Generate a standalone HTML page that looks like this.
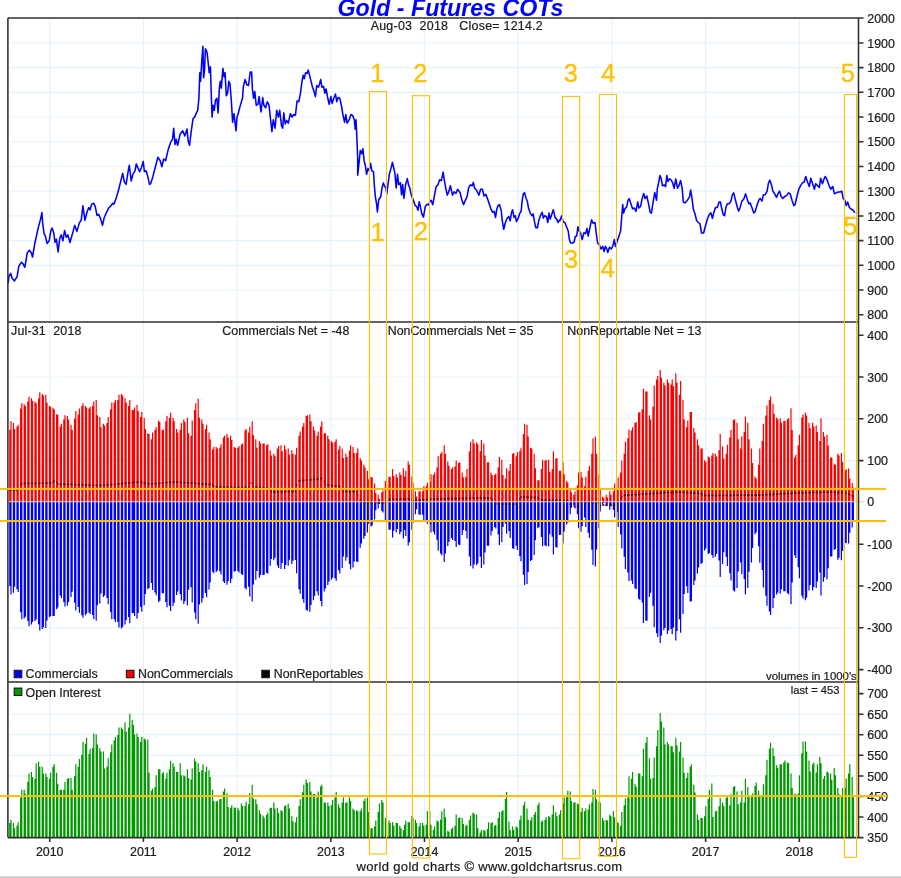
<!DOCTYPE html>
<html><head><meta charset="utf-8"><title>Gold - Futures COTs</title><style>html,body{margin:0;padding:0;background:#fff}svg{display:block}</style></head><body>
<svg width="901" height="878" viewBox="0 0 901 878" font-family="Liberation Sans, Arial, sans-serif" font-size="12.4" fill="#1c1c1c">
<style>text{stroke:#1c1c1c;stroke-width:.22px}text.ti{stroke:none}text.og{stroke:#FFC000;stroke-width:.3px}</style>
<rect width="901" height="878" fill="#fff"/>
<path d="M49.7 18.0V837.6 M143.4 18.0V837.6 M237.1 18.0V837.6 M330.8 18.0V837.6 M424.5 18.0V837.6 M518.2 18.0V837.6 M611.9 18.0V837.6 M705.6 18.0V837.6 M799.3 18.0V837.6 M7.9 290.0H858.5 M7.9 265.3H858.5 M7.9 240.6H858.5 M7.9 215.9H858.5 M7.9 191.2H858.5 M7.9 166.5H858.5 M7.9 141.8H858.5 M7.9 117.0H858.5 M7.9 92.3H858.5 M7.9 67.6H858.5 M7.9 42.9H858.5 M7.9 627.8H858.5 M7.9 586.0H858.5 M7.9 544.2H858.5 M7.9 460.6H858.5 M7.9 418.8H858.5 M7.9 377.0H858.5 M7.9 817.0H858.5 M7.9 796.5H858.5 M7.9 775.9H858.5 M7.9 755.3H858.5 M7.9 734.7H858.5 M7.9 714.2H858.5" stroke="#e7f3fa" stroke-width="1.2" fill="none"/>
<path d="M9.80 502.0V429.8M11.00 502.0V421.3M13.40 502.0V423.0M14.60 502.0V428.9M17.00 502.0V426.4M18.20 502.0V424.7M20.60 502.0V408.4M21.80 502.0V403.3M24.20 502.0V404.2M25.40 502.0V405.9M27.80 502.0V401.6M29.00 502.0V396.5M31.40 502.0V398.2M32.60 502.0V400.8M35.00 502.0V401.6M36.20 502.0V403.3M38.60 502.0V398.5M39.80 502.0V392.2M42.20 502.0V393.9M43.40 502.0V395.6M45.80 502.0V394.8M47.00 502.0V402.5M49.40 502.0V405.9M50.60 502.0V406.7M53.00 502.0V407.7M54.20 502.0V409.3M56.60 502.0V414.4M57.80 502.0V414.4M60.20 502.0V426.4M61.40 502.0V423.8M63.80 502.0V419.5M65.00 502.0V415.3M67.40 502.0V416.1M68.60 502.0V419.5M71.00 502.0V424.7M72.20 502.0V429.8M74.60 502.0V418.7M75.80 502.0V411.0M78.20 502.0V414.4M79.40 502.0V408.4M81.80 502.0V405.9M83.00 502.0V403.3M85.40 502.0V405.9M86.60 502.0V407.6M89.00 502.0V408.4M90.20 502.0V406.7M92.60 502.0V405.9M93.80 502.0V401.6M96.20 502.0V399.9M97.40 502.0V415.3M99.80 502.0V417.0M101.00 502.0V427.2M103.40 502.0V423.8M104.60 502.0V425.5M107.00 502.0V423.0M108.20 502.0V417.0M110.60 502.0V409.3M111.80 502.0V402.5M114.20 502.0V402.5M115.40 502.0V399.9M117.80 502.0V399.9M119.00 502.0V394.8M121.40 502.0V393.9M122.60 502.0V395.6M125.00 502.0V398.2M126.20 502.0V402.5M128.60 502.0V405.9M129.80 502.0V399.9M132.20 502.0V410.1M133.40 502.0V410.1M134.60 502.0V407.6M137.00 502.0V405.0M138.20 502.0V411.0M140.60 502.0V417.0M141.80 502.0V411.9M144.20 502.0V417.8M145.40 502.0V428.9M147.80 502.0V433.2M149.00 502.0V434.1M151.40 502.0V439.2M152.60 502.0V432.4M155.00 502.0V429.8M156.20 502.0V427.2M158.60 502.0V420.4M159.80 502.0V422.1M162.20 502.0V429.8M163.40 502.0V429.8M165.80 502.0V421.3M167.00 502.0V416.1M169.40 502.0V417.8M170.60 502.0V412.7M173.00 502.0V417.8M174.20 502.0V421.3M176.60 502.0V428.9M177.80 502.0V432.4M180.20 502.0V429.8M181.40 502.0V423.0M183.80 502.0V419.5M185.00 502.0V422.1M187.40 502.0V417.8M188.60 502.0V433.2M191.00 502.0V435.8M192.20 502.0V420.4M194.60 502.0V410.1M195.80 502.0V403.3M198.20 502.0V398.7M199.40 502.0V417.8M201.80 502.0V419.5M203.00 502.0V423.8M205.40 502.0V428.9M206.60 502.0V424.7M209.00 502.0V432.4M210.20 502.0V439.2M212.60 502.0V449.4M213.80 502.0V446.9M216.20 502.0V446.9M217.40 502.0V448.6M219.80 502.0V447.7M221.00 502.0V444.3M223.40 502.0V437.5M224.60 502.0V435.8M227.00 502.0V434.1M228.20 502.0V437.5M230.60 502.0V435.8M231.80 502.0V440.0M234.20 502.0V446.9M235.40 502.0V447.7M237.80 502.0V447.7M239.00 502.0V446.0M241.40 502.0V444.6M242.60 502.0V443.5M245.00 502.0V430.6M246.20 502.0V428.9M248.60 502.0V432.4M249.80 502.0V426.4M252.20 502.0V421.3M253.40 502.0V434.9M255.80 502.0V439.2M257.00 502.0V447.7M259.40 502.0V440.9M260.60 502.0V443.5M263.00 502.0V443.5M264.20 502.0V443.5M266.60 502.0V445.2M267.80 502.0V444.3M270.20 502.0V450.3M271.40 502.0V455.4M273.80 502.0V453.7M275.00 502.0V456.3M277.40 502.0V448.6M278.60 502.0V446.0M281.00 502.0V445.2M282.20 502.0V451.2M284.60 502.0V445.2M285.80 502.0V449.4M288.20 502.0V448.6M289.40 502.0V454.6M291.80 502.0V450.3M293.00 502.0V453.7M295.40 502.0V454.6M296.60 502.0V447.7M299.00 502.0V435.8M300.20 502.0V431.5M302.60 502.0V426.4M303.80 502.0V423.0M306.20 502.0V416.1M307.40 502.0V415.3M309.80 502.0V414.4M311.00 502.0V421.3M313.40 502.0V426.4M314.60 502.0V430.6M317.00 502.0V435.8M318.20 502.0V431.5M320.60 502.0V426.4M321.80 502.0V421.3M324.20 502.0V433.2M325.40 502.0V433.2M327.80 502.0V435.8M329.00 502.0V439.2M331.40 502.0V440.9M332.60 502.0V442.6M335.00 502.0V441.8M336.20 502.0V439.2M338.60 502.0V449.4M339.80 502.0V446.0M342.20 502.0V448.6M343.40 502.0V458.0M345.80 502.0V453.7M347.00 502.0V457.1M349.40 502.0V450.4M350.60 502.0V445.2M353.00 502.0V446.9M354.20 502.0V452.9M356.60 502.0V452.9M357.80 502.0V448.6M360.20 502.0V458.0M361.40 502.0V460.5M363.80 502.0V464.8M365.00 502.0V467.4M367.40 502.0V470.8M368.60 502.0V479.3M371.00 502.0V476.8M372.20 502.0V477.6M374.60 502.0V483.6M375.80 502.0V493.0M378.20 502.0V494.7M379.40 502.0V499.0M381.80 502.0V492.2M383.00 502.0V490.4M385.40 502.0V481.0M386.60 502.0V481.9M389.00 502.0V476.8M390.20 502.0V476.8M392.60 502.0V469.1M393.80 502.0V475.9M396.20 502.0V474.2M397.40 502.0V477.6M399.80 502.0V472.5M401.00 502.0V475.1M403.40 502.0V468.2M404.60 502.0V476.8M405.80 502.0V470.8M408.20 502.0V461.4M409.40 502.0V464.8M411.80 502.0V476.8M413.00 502.0V482.8M415.40 502.0V491.3M416.60 502.0V496.4M419.00 502.0V491.3M420.20 502.0V491.3M422.60 502.0V491.3M423.80 502.0V486.2M426.20 502.0V486.2M427.40 502.0V482.8M429.80 502.0V481.9M431.00 502.0V474.2M433.40 502.0V475.1M434.60 502.0V472.5M437.00 502.0V467.4M438.20 502.0V456.3M440.60 502.0V453.7M441.80 502.0V452.0M444.20 502.0V445.2M445.40 502.0V453.7M447.80 502.0V461.4M449.00 502.0V465.7M451.40 502.0V469.1M452.60 502.0V467.4M455.00 502.0V466.5M456.20 502.0V460.5M458.60 502.0V463.1M459.80 502.0V462.3M462.20 502.0V472.5M463.40 502.0V477.6M465.80 502.0V476.8M467.00 502.0V469.1M469.40 502.0V451.2M470.60 502.0V441.8M473.00 502.0V439.2M474.20 502.0V443.5M476.60 502.0V442.6M477.80 502.0V444.3M480.20 502.0V451.2M481.40 502.0V440.0M483.80 502.0V443.5M485.00 502.0V455.4M487.40 502.0V462.3M488.60 502.0V462.3M491.00 502.0V472.5M492.20 502.0V475.1M494.60 502.0V475.1M495.80 502.0V473.4M498.20 502.0V467.4M499.40 502.0V457.1M501.80 502.0V459.7M503.00 502.0V475.1M505.40 502.0V478.5M506.60 502.0V468.2M509.00 502.0V470.8M510.20 502.0V464.0M512.60 502.0V453.7M513.80 502.0V452.9M516.20 502.0V456.3M517.40 502.0V452.0M519.80 502.0V451.2M521.00 502.0V447.7M523.40 502.0V434.1M524.60 502.0V423.8M527.00 502.0V424.7M528.20 502.0V436.6M530.60 502.0V447.7M531.80 502.0V448.6M534.20 502.0V453.7M535.40 502.0V468.2M537.80 502.0V480.2M539.00 502.0V480.2M541.40 502.0V469.1M542.60 502.0V459.7M545.00 502.0V460.5M546.20 502.0V459.7M548.60 502.0V459.7M549.80 502.0V471.7M552.20 502.0V469.1M553.40 502.0V451.2M555.80 502.0V458.8M557.00 502.0V458.0M559.40 502.0V470.8M560.60 502.0V470.8M563.00 502.0V462.3M564.20 502.0V474.2M566.60 502.0V481.0M567.80 502.0V482.8M570.20 502.0V487.9M571.40 502.0V492.2M573.80 502.0V494.7M575.00 502.0V491.3M577.40 502.0V485.3M578.60 502.0V472.5M581.00 502.0V471.7M582.20 502.0V477.6M584.60 502.0V486.2M585.80 502.0V476.8M588.20 502.0V470.8M589.40 502.0V465.7M591.80 502.0V453.7M593.00 502.0V438.3M595.40 502.0V436.6M596.60 502.0V453.7M599.00 502.0V474.2M600.20 502.0V489.6M602.60 502.0V496.4M603.80 502.0V498.1M606.20 502.0V494.7M607.40 502.0V497.3M609.80 502.0V491.3M611.00 502.0V494.7M613.40 502.0V491.3M614.60 502.0V483.6M617.00 502.0V489.6M618.20 502.0V477.6M620.60 502.0V472.5M621.80 502.0V460.5M624.20 502.0V453.7M625.40 502.0V441.8M627.80 502.0V438.3M629.00 502.0V429.8M631.40 502.0V430.6M632.60 502.0V427.2M635.00 502.0V423.0M636.20 502.0V422.1M638.60 502.0V412.7M639.80 502.0V411.9M642.20 502.0V409.3M643.40 502.0V388.8M645.80 502.0V391.4M647.00 502.0V391.4M649.40 502.0V415.3M650.60 502.0V419.5M653.00 502.0V406.7M654.20 502.0V385.4M656.60 502.0V379.4M657.80 502.0V376.0M660.20 502.0V370.0M661.40 502.0V377.7M663.80 502.0V382.8M665.00 502.0V385.4M667.40 502.0V379.4M668.60 502.0V382.8M671.00 502.0V384.5M672.20 502.0V379.4M673.40 502.0V386.2M675.80 502.0V373.4M677.00 502.0V382.8M679.40 502.0V394.8M680.60 502.0V381.1M683.00 502.0V399.9M684.20 502.0V419.5M686.60 502.0V427.2M687.80 502.0V420.4M690.20 502.0V411.9M691.40 502.0V411.9M693.80 502.0V428.1M695.00 502.0V432.4M697.40 502.0V439.2M698.60 502.0V445.2M701.00 502.0V448.4M702.20 502.0V448.4M704.60 502.0V460.2M705.80 502.0V462.0M708.20 502.0V456.6M709.40 502.0V457.5M711.80 502.0V455.6M713.00 502.0V452.9M715.40 502.0V453.8M716.60 502.0V456.6M719.00 502.0V450.2M720.20 502.0V433.8M722.60 502.0V446.5M723.80 502.0V458.4M726.20 502.0V453.8M727.40 502.0V444.7M729.80 502.0V437.4M731.00 502.0V430.1M733.40 502.0V420.1M734.60 502.0V419.2M737.00 502.0V422.8M738.20 502.0V439.2M740.60 502.0V448.4M741.80 502.0V436.5M744.20 502.0V432.0M745.40 502.0V416.5M747.80 502.0V422.8M749.00 502.0V439.2M751.40 502.0V448.4M752.60 502.0V462.9M755.00 502.0V476.6M756.20 502.0V478.4M758.60 502.0V464.8M759.80 502.0V448.4M762.20 502.0V441.1M763.40 502.0V423.8M765.80 502.0V415.6M767.00 502.0V405.5M769.40 502.0V400.1M770.60 502.0V396.4M773.00 502.0V403.7M774.20 502.0V413.7M776.60 502.0V417.4M777.80 502.0V419.2M780.20 502.0V418.3M781.40 502.0V422.8M783.80 502.0V421.0M785.00 502.0V421.0M787.40 502.0V419.2M788.60 502.0V418.3M791.00 502.0V408.3M792.20 502.0V430.1M794.60 502.0V457.5M795.80 502.0V454.7M798.20 502.0V445.6M799.40 502.0V434.7M801.80 502.0V417.4M803.00 502.0V414.6M805.40 502.0V412.8M806.60 502.0V415.6M809.00 502.0V422.8M810.20 502.0V428.3M812.60 502.0V422.8M813.80 502.0V426.5M816.20 502.0V425.6M817.40 502.0V432.0M819.80 502.0V441.1M821.00 502.0V418.3M823.40 502.0V432.0M824.60 502.0V436.5M827.00 502.0V434.7M828.20 502.0V445.6M830.60 502.0V457.5M831.80 502.0V457.5M834.20 502.0V463.8M835.40 502.0V464.8M837.80 502.0V453.8M839.00 502.0V455.6M841.40 502.0V452.9M842.60 502.0V462.0M845.00 502.0V470.2M846.20 502.0V469.3M848.60 502.0V468.4M849.80 502.0V478.4M852.20 502.0V483.0M853.40 502.0V487.5" stroke="#ff0000" stroke-width="1.2" fill="none"/>
<path d="M9.80 502.0V586.1M11.00 502.0V594.6M13.40 502.0V592.8M14.60 502.0V586.7M17.00 502.0V589.2M18.20 502.0V591.9M20.60 502.0V612.3M21.80 502.0V619.2M24.20 502.0V618.4M25.40 502.0V616.7M27.80 502.0V621.0M29.00 502.0V626.2M31.40 502.0V624.5M32.60 502.0V621.9M35.00 502.0V621.1M36.20 502.0V619.4M38.60 502.0V624.3M39.80 502.0V630.6M42.20 502.0V628.9M43.40 502.0V627.2M45.80 502.0V628.1M47.00 502.0V620.5M49.40 502.0V617.1M50.60 502.0V616.2M53.00 502.0V616.1M54.20 502.0V615.9M56.60 502.0V609.2M57.80 502.0V607.6M60.20 502.0V595.6M61.40 502.0V598.1M63.80 502.0V602.3M65.00 502.0V606.5M67.40 502.0V605.6M68.60 502.0V602.1M71.00 502.0V596.9M72.20 502.0V591.7M74.60 502.0V602.7M75.80 502.0V610.4M78.20 502.0V606.9M79.40 502.0V612.8M81.80 502.0V615.3M83.00 502.0V617.8M85.40 502.0V615.2M86.60 502.0V613.4M89.00 502.0V612.5M90.20 502.0V614.1M92.60 502.0V614.9M93.80 502.0V619.1M96.20 502.0V620.8M97.40 502.0V605.3M99.80 502.0V603.5M101.00 502.0V593.4M103.40 502.0V596.9M104.60 502.0V595.4M107.00 502.0V598.1M108.20 502.0V604.2M110.60 502.0V612.1M111.80 502.0V619.1M114.20 502.0V619.2M115.40 502.0V622.0M117.80 502.0V622.1M119.00 502.0V627.4M121.40 502.0V628.4M122.60 502.0V626.9M125.00 502.0V624.4M126.20 502.0V620.3M128.60 502.0V617.1M129.80 502.0V623.2M132.20 502.0V613.1M133.40 502.0V613.3M134.60 502.0V616.0M137.00 502.0V618.7M138.20 502.0V612.9M140.60 502.0V606.9M141.80 502.0V611.7M144.20 502.0V605.3M145.40 502.0V593.9M147.80 502.0V589.2M149.00 502.0V588.0M151.40 502.0V582.9M152.60 502.0V589.9M155.00 502.0V592.6M156.20 502.0V595.3M158.60 502.0V602.3M159.80 502.0V600.7M162.20 502.0V593.2M163.40 502.0V593.3M165.80 502.0V602.0M167.00 502.0V607.3M169.40 502.0V605.7M170.60 502.0V611.0M173.00 502.0V606.0M174.20 502.0V602.7M176.60 502.0V595.0M177.80 502.0V591.4M180.20 502.0V593.9M181.40 502.0V600.6M183.80 502.0V603.9M185.00 502.0V601.2M187.40 502.0V605.3M188.60 502.0V589.8M191.00 502.0V587.2M192.20 502.0V602.4M194.60 502.0V612.5M195.80 502.0V619.2M198.20 502.0V623.7M199.40 502.0V604.5M201.80 502.0V602.7M203.00 502.0V598.3M205.40 502.0V593.0M206.60 502.0V597.2M209.00 502.0V589.4M210.20 502.0V582.4M212.60 502.0V571.8M213.80 502.0V573.2M216.20 502.0V572.1M217.40 502.0V570.4M219.80 502.0V571.2M221.00 502.0V574.6M223.40 502.0V581.4M224.60 502.0V583.1M227.00 502.0V584.8M228.20 502.0V581.3M230.60 502.0V583.0M231.80 502.0V578.7M234.20 502.0V571.8M235.40 502.0V571.0M237.80 502.0V570.9M239.00 502.0V572.6M241.40 502.0V574.0M242.60 502.0V575.1M245.00 502.0V587.9M246.20 502.0V589.6M248.60 502.0V586.8M249.80 502.0V596.4M252.20 502.0V601.5M253.40 502.0V584.6M255.80 502.0V579.7M257.00 502.0V571.0M259.40 502.0V577.7M260.60 502.0V575.0M263.00 502.0V574.9M264.20 502.0V574.8M266.60 502.0V573.0M267.80 502.0V573.6M270.20 502.0V565.8M271.40 502.0V558.9M273.80 502.0V560.3M275.00 502.0V557.8M277.40 502.0V565.5M278.60 502.0V568.1M281.00 502.0V569.0M282.20 502.0V563.1M284.60 502.0V569.1M285.80 502.0V564.9M288.20 502.0V565.8M289.40 502.0V559.8M291.80 502.0V564.1M293.00 502.0V560.7M295.40 502.0V560.1M296.60 502.0V573.2M299.00 502.0V589.3M300.20 502.0V593.7M302.60 502.0V599.1M303.80 502.0V602.7M306.20 502.0V609.7M307.40 502.0V610.7M309.80 502.0V611.8M311.00 502.0V605.1M313.40 502.0V600.2M314.60 502.0V596.1M317.00 502.0V591.2M318.20 502.0V595.6M320.60 502.0V600.9M321.80 502.0V606.2M324.20 502.0V591.4M325.40 502.0V588.5M327.80 502.0V585.1M329.00 502.0V581.5M331.40 502.0V579.6M332.60 502.0V577.7M335.00 502.0V578.3M336.20 502.0V580.7M338.60 502.0V570.3M339.80 502.0V573.5M342.20 502.0V568.0M343.40 502.0V556.5M345.80 502.0V560.7M347.00 502.0V557.3M349.40 502.0V564.0M350.60 502.0V569.2M353.00 502.0V567.4M354.20 502.0V561.4M356.60 502.0V561.4M357.80 502.0V562.1M360.20 502.0V547.8M361.40 502.0V543.5M363.80 502.0V538.7M365.00 502.0V536.1M367.40 502.0V532.6M368.60 502.0V524.0M371.00 502.0V526.5M372.20 502.0V525.6M374.60 502.0V519.6M375.80 502.0V510.2M378.20 502.0V508.4M379.40 502.0V504.1M381.80 502.0V510.9M383.00 502.0V512.6M385.40 502.0V522.0M386.60 502.0V523.0M389.00 502.0V529.7M390.20 502.0V529.8M392.60 502.0V537.5M393.80 502.0V530.7M396.20 502.0V532.5M397.40 502.0V529.1M399.80 502.0V534.2M401.00 502.0V531.7M403.40 502.0V538.6M404.60 502.0V530.1M405.80 502.0V536.1M408.20 502.0V545.5M409.40 502.0V542.2M411.80 502.0V529.8M413.00 502.0V523.0M415.40 502.0V514.3M416.60 502.0V509.3M419.00 502.0V514.6M420.20 502.0V514.7M422.60 502.0V514.8M423.80 502.0V520.1M426.20 502.0V520.2M427.40 502.0V523.7M429.80 502.0V524.7M431.00 502.0V532.5M433.40 502.0V531.8M434.60 502.0V534.5M437.00 502.0V539.7M438.20 502.0V550.8M440.60 502.0V553.4M441.80 502.0V555.2M444.20 502.0V562.0M445.40 502.0V553.5M447.80 502.0V545.9M449.00 502.0V541.7M451.40 502.0V538.3M452.60 502.0V540.0M455.00 502.0V540.9M456.20 502.0V546.9M458.60 502.0V544.4M459.80 502.0V545.3M462.20 502.0V535.1M463.40 502.0V530.0M465.80 502.0V530.9M467.00 502.0V538.6M469.40 502.0V556.6M470.60 502.0V566.0M473.00 502.0V568.6M474.20 502.0V564.4M476.60 502.0V565.3M477.80 502.0V563.6M480.20 502.0V556.8M481.40 502.0V568.0M483.80 502.0V564.5M485.00 502.0V552.6M487.40 502.0V545.7M488.60 502.0V545.7M491.00 502.0V535.5M492.20 502.0V531.1M494.60 502.0V526.9M495.80 502.0V528.6M498.20 502.0V534.6M499.40 502.0V544.9M501.80 502.0V542.3M503.00 502.0V526.9M505.40 502.0V523.5M506.60 502.0V533.8M509.00 502.0V531.2M510.20 502.0V538.0M512.60 502.0V548.3M513.80 502.0V549.1M516.20 502.0V545.7M517.40 502.0V550.0M519.80 502.0V556.3M521.00 502.0V561.2M523.40 502.0V574.8M524.60 502.0V585.0M527.00 502.0V584.1M528.20 502.0V572.1M530.60 502.0V561.0M531.80 502.0V560.1M534.20 502.0V554.9M535.40 502.0V540.3M537.80 502.0V528.3M539.00 502.0V527.2M541.40 502.0V536.9M542.60 502.0V546.3M545.00 502.0V545.4M546.20 502.0V546.2M548.60 502.0V546.2M549.80 502.0V534.2M552.20 502.0V536.7M553.40 502.0V554.6M555.80 502.0V546.9M557.00 502.0V547.7M559.40 502.0V534.9M560.60 502.0V534.8M563.00 502.0V543.3M564.20 502.0V531.4M566.60 502.0V524.5M567.80 502.0V522.7M570.20 502.0V514.3M571.40 502.0V507.8M573.80 502.0V505.1M575.00 502.0V508.4M577.40 502.0V514.3M578.60 502.0V528.2M581.00 502.0V531.8M582.20 502.0V526.3M584.60 502.0V517.6M585.80 502.0V526.9M588.20 502.0V532.8M589.40 502.0V537.8M591.80 502.0V549.7M593.00 502.0V564.9M595.40 502.0V566.5M596.60 502.0V549.4M599.00 502.0V528.2M600.20 502.0V511.4M602.60 502.0V504.6M603.80 502.0V502.9M606.20 502.0V506.3M607.40 502.0V503.7M609.80 502.0V509.7M611.00 502.0V506.3M613.40 502.0V509.7M614.60 502.0V517.4M617.00 502.0V512.2M618.20 502.0V526.9M620.60 502.0V534.4M621.80 502.0V548.6M624.20 502.0V556.8M625.40 502.0V568.9M627.80 502.0V572.5M629.00 502.0V581.1M631.40 502.0V580.4M632.60 502.0V583.9M635.00 502.0V588.3M636.20 502.0V589.3M638.60 502.0V598.8M639.80 502.0V599.8M642.20 502.0V602.5M643.40 502.0V623.1M645.80 502.0V620.6M647.00 502.0V620.8M649.40 502.0V597.0M650.60 502.0V592.8M653.00 502.0V605.8M654.20 502.0V627.2M656.60 502.0V633.3M657.80 502.0V636.9M660.20 502.0V643.0M661.40 502.0V635.4M663.80 502.0V630.3M665.00 502.0V627.9M667.40 502.0V633.9M668.60 502.0V630.6M671.00 502.0V629.0M672.20 502.0V634.2M673.40 502.0V627.5M675.80 502.0V640.4M677.00 502.0V631.1M679.40 502.0V619.2M680.60 502.0V632.8M683.00 502.0V613.9M684.20 502.0V594.1M686.60 502.0V586.3M687.80 502.0V593.0M690.20 502.0V601.4M691.40 502.0V601.2M693.80 502.0V584.9M695.00 502.0V580.5M697.40 502.0V573.5M698.60 502.0V567.4M701.00 502.0V563.8M702.20 502.0V563.0M704.60 502.0V550.5M705.80 502.0V548.5M708.20 502.0V554.0M709.40 502.0V553.1M711.80 502.0V554.9M713.00 502.0V557.7M715.40 502.0V556.8M716.60 502.0V554.0M719.00 502.0V560.4M720.20 502.0V576.9M722.60 502.0V564.1M723.80 502.0V552.3M726.20 502.0V556.9M727.40 502.0V566.0M729.80 502.0V573.3M731.00 502.0V580.6M733.40 502.0V590.6M734.60 502.0V591.6M737.00 502.0V587.9M738.20 502.0V571.6M740.60 502.0V562.5M741.80 502.0V574.3M744.20 502.0V578.9M745.40 502.0V594.4M747.80 502.0V588.0M749.00 502.0V571.7M751.40 502.0V562.6M752.60 502.0V548.0M755.00 502.0V534.3M756.20 502.0V532.5M758.60 502.0V546.2M759.80 502.0V562.7M762.20 502.0V570.0M763.40 502.0V587.4M765.80 502.0V595.7M767.00 502.0V605.8M769.40 502.0V611.4M770.60 502.0V615.1M773.00 502.0V607.9M774.20 502.0V598.0M776.60 502.0V594.4M777.80 502.0V592.7M780.20 502.0V593.7M781.40 502.0V589.2M783.80 502.0V591.2M785.00 502.0V591.2M787.40 502.0V593.2M788.60 502.0V594.2M791.00 502.0V604.3M792.20 502.0V582.5M794.60 502.0V555.2M795.80 502.0V558.1M798.20 502.0V567.3M799.40 502.0V578.3M801.80 502.0V595.7M803.00 502.0V598.5M805.40 502.0V600.3M806.60 502.0V597.7M809.00 502.0V590.4M810.20 502.0V585.0M812.60 502.0V590.6M813.80 502.0V587.0M816.20 502.0V587.9M817.40 502.0V581.6M819.80 502.0V572.6M821.00 502.0V595.4M823.40 502.0V581.8M824.60 502.0V577.3M827.00 502.0V579.2M828.20 502.0V568.3M830.60 502.0V556.5M831.80 502.0V556.4M834.20 502.0V549.9M835.40 502.0V548.9M837.80 502.0V559.7M839.00 502.0V557.7M841.40 502.0V560.3M842.60 502.0V551.1M845.00 502.0V542.8M846.20 502.0V543.2M848.60 502.0V543.4M849.80 502.0V532.7M852.20 502.0V527.4M853.40 502.0V522.1" stroke="#0000ff" stroke-width="1.2" fill="none"/>
<path d="M9.80 489.2v1.8M11.00 489.3v1.8M13.40 489.4v1.8M14.60 489.4v1.8M17.00 489.5v1.8M18.20 488.5v1.8M20.60 484.3v1.8M21.80 482.6v1.8M24.20 482.6v1.8M25.40 482.5v1.8M27.80 482.5v1.8M29.00 482.5v1.8M31.40 482.4v1.8M32.60 482.4v1.8M35.00 482.4v1.8M36.20 482.4v1.8M38.60 482.3v1.8M39.80 482.3v1.8M42.20 482.3v1.8M43.40 482.2v1.8M45.80 482.2v1.8M47.00 482.2v1.8M49.40 482.1v1.8M50.60 482.1v1.8M53.00 481.4v1.8M54.20 479.9v1.8M56.60 481.5v1.8M57.80 483.1v1.8M60.20 483.2v1.8M61.40 483.2v1.8M63.80 483.3v1.8M65.00 483.4v1.8M67.40 483.4v1.8M68.60 483.5v1.8M71.00 483.5v1.8M72.20 483.6v1.8M74.60 483.7v1.8M75.80 483.7v1.8M78.20 483.8v1.8M79.40 483.9v1.8M81.80 483.9v1.8M83.00 484.0v1.8M85.40 484.1v1.8M86.60 484.1v1.8M89.00 484.2v1.8M90.20 484.3v1.8M92.60 484.3v1.8M93.80 484.4v1.8M96.20 484.4v1.8M97.40 484.5v1.8M99.80 484.6v1.8M101.00 484.5v1.8M103.40 484.3v1.8M104.60 484.2v1.8M107.00 484.0v1.8M108.20 483.9v1.8M110.60 483.7v1.8M111.80 483.6v1.8M114.20 483.4v1.8M115.40 483.2v1.8M117.80 483.1v1.8M119.00 482.9v1.8M121.40 482.8v1.8M122.60 482.6v1.8M125.00 482.5v1.8M126.20 482.3v1.8M128.60 482.1v1.8M129.80 482.0v1.8M132.20 481.8v1.8M133.40 481.7v1.8M134.60 481.5v1.8M137.00 481.4v1.8M138.20 481.2v1.8M140.60 481.2v1.8M141.80 481.6v1.8M144.20 481.9v1.8M145.40 482.3v1.8M147.80 482.7v1.8M149.00 483.0v1.8M151.40 483.0v1.8M152.60 482.8v1.8M155.00 482.7v1.8M156.20 482.6v1.8M158.60 482.4v1.8M159.80 482.3v1.8M162.20 482.1v1.8M163.40 482.0v1.8M165.80 481.8v1.8M167.00 481.7v1.8M169.40 481.6v1.8M170.60 481.4v1.8M173.00 481.3v1.8M174.20 481.1v1.8M176.60 481.2v1.8M177.80 481.3v1.8M180.20 481.4v1.8M181.40 481.6v1.8M183.80 481.7v1.8M185.00 481.8v1.8M187.40 481.9v1.8M188.60 482.1v1.8M191.00 482.2v1.8M192.20 482.3v1.8M194.60 482.4v1.8M195.80 482.5v1.8M198.20 482.7v1.8M199.40 482.8v1.8M201.80 482.9v1.8M203.00 483.0v1.8M205.40 483.1v1.8M206.60 483.3v1.8M209.00 483.4v1.8M210.20 483.5v1.8M212.60 483.9v1.8M213.80 485.0v1.8M216.20 486.1v1.8M217.40 486.1v1.8M219.80 486.2v1.8M221.00 486.2v1.8M223.40 486.2v1.8M224.60 486.2v1.8M227.00 486.3v1.8M228.20 486.3v1.8M230.60 486.3v1.8M231.80 486.4v1.8M234.20 486.4v1.8M235.40 486.4v1.8M237.80 486.4v1.8M239.00 486.5v1.8M241.40 486.5v1.8M242.60 486.5v1.8M245.00 486.5v1.8M246.20 486.6v1.8M248.60 485.9v1.8M249.80 482.3v1.8M252.20 482.3v1.8M253.40 485.6v1.8M255.80 486.2v1.8M257.00 486.3v1.8M259.40 486.5v1.8M260.60 486.6v1.8M263.00 486.7v1.8M264.20 486.9v1.8M266.60 487.0v1.8M267.80 487.2v1.8M270.20 489.0v1.8M271.40 490.8v1.8M273.80 491.1v1.8M275.00 491.0v1.8M277.40 491.0v1.8M278.60 491.0v1.8M281.00 490.9v1.8M282.20 490.9v1.8M284.60 490.8v1.8M285.80 490.8v1.8M288.20 490.8v1.8M289.40 490.7v1.8M291.80 490.7v1.8M293.00 490.6v1.8M295.40 490.4v1.8M296.60 484.2v1.8M299.00 480.0v1.8M300.20 479.8v1.8M302.60 479.7v1.8M303.80 479.5v1.8M306.20 479.3v1.8M307.40 479.1v1.8M309.80 478.9v1.8M311.00 478.7v1.8M313.40 478.5v1.8M314.60 478.4v1.8M317.00 478.2v1.8M318.20 478.0v1.8M320.60 477.8v1.8M321.80 477.6v1.8M324.20 480.5v1.8M325.40 483.4v1.8M327.80 484.2v1.8M329.00 484.4v1.8M331.40 484.6v1.8M332.60 484.8v1.8M335.00 485.0v1.8M336.20 485.2v1.8M338.60 485.4v1.8M339.80 485.6v1.8M342.20 488.5v1.8M343.40 490.6v1.8M345.80 490.6v1.8M347.00 490.7v1.8M349.40 490.7v1.8M350.60 490.8v1.8M353.00 490.8v1.8M354.20 490.8v1.8M356.60 490.9v1.8M357.80 494.4v1.8M360.20 499.3v1.8M361.40 501.1v1.8M363.80 501.6v1.8M365.00 501.7v1.8M367.40 501.7v1.8M368.60 501.7v1.8M371.00 501.8v1.8M372.20 501.8v1.8M374.60 501.9v1.8M375.80 501.9v1.8M378.20 501.9v1.8M379.40 502.0v1.8M381.80 502.0v1.8M383.00 502.1v1.8M385.40 502.1v1.8M386.60 500.2v1.8M389.00 498.6v1.8M390.20 498.6v1.8M392.60 498.5v1.8M393.80 498.5v1.8M396.20 498.4v1.8M397.40 498.4v1.8M399.80 498.4v1.8M401.00 498.3v1.8M403.40 498.3v1.8M404.60 498.2v1.8M405.80 498.2v1.8M408.20 498.2v1.8M409.40 498.1v1.8M411.80 498.5v1.8M413.00 499.4v1.8M415.40 499.5v1.8M416.60 499.4v1.8M419.00 499.2v1.8M420.20 499.1v1.8M422.60 499.0v1.8M423.80 498.9v1.8M426.20 498.7v1.8M427.40 498.6v1.8M429.80 498.5v1.8M431.00 498.3v1.8M433.40 498.2v1.8M434.60 498.1v1.8M437.00 498.1v1.8M438.20 498.0v1.8M440.60 498.0v1.8M441.80 497.9v1.8M444.20 497.9v1.8M445.40 497.9v1.8M447.80 497.8v1.8M449.00 497.8v1.8M451.40 497.7v1.8M452.60 497.7v1.8M455.00 497.7v1.8M456.20 497.6v1.8M458.60 497.6v1.8M459.80 497.5v1.8M462.20 497.5v1.8M463.40 497.5v1.8M465.80 497.4v1.8M467.00 497.4v1.8M469.40 497.3v1.8M470.60 497.3v1.8M473.00 497.3v1.8M474.20 497.2v1.8M476.60 497.2v1.8M477.80 497.1v1.8M480.20 497.1v1.8M481.40 497.1v1.8M483.80 497.1v1.8M485.00 497.1v1.8M487.40 497.1v1.8M488.60 497.1v1.8M491.00 497.1v1.8M492.20 498.9v1.8M494.60 503.1v1.8M495.80 503.1v1.8M498.20 503.1v1.8M499.40 503.1v1.8M501.80 503.1v1.8M503.00 503.1v1.8M505.40 503.1v1.8M506.60 503.1v1.8M509.00 503.1v1.8M510.20 503.1v1.8M512.60 503.1v1.8M513.80 503.1v1.8M516.20 503.1v1.8M517.40 503.1v1.8M519.80 497.7v1.8M521.00 496.1v1.8M523.40 496.2v1.8M524.60 496.2v1.8M527.00 496.3v1.8M528.20 496.3v1.8M530.60 496.4v1.8M531.80 496.4v1.8M534.20 496.5v1.8M535.40 496.5v1.8M537.80 496.6v1.8M539.00 497.7v1.8M541.40 499.1v1.8M542.60 499.1v1.8M545.00 499.2v1.8M546.20 499.2v1.8M548.60 499.2v1.8M549.80 499.3v1.8M552.20 499.3v1.8M553.40 499.3v1.8M555.80 499.4v1.8M557.00 499.4v1.8M559.40 499.4v1.8M560.60 499.5v1.8M563.00 499.5v1.8M564.20 499.5v1.8M566.60 499.6v1.8M567.80 499.7v1.8M570.20 503.0v1.8M571.40 505.1v1.8M573.80 505.3v1.8M575.00 505.4v1.8M577.40 505.5v1.8M578.60 504.4v1.8M581.00 501.7v1.8M582.20 501.2v1.8M584.60 501.3v1.8M585.80 501.4v1.8M588.20 501.5v1.8M589.40 501.6v1.8M591.80 501.7v1.8M593.00 501.8v1.8M595.40 501.9v1.8M596.60 502.0v1.8M599.00 502.7v1.8M600.20 504.1v1.8M602.60 504.1v1.8M603.80 504.1v1.8M606.20 504.1v1.8M607.40 504.1v1.8M609.80 504.1v1.8M611.00 504.1v1.8M613.40 504.1v1.8M614.60 504.1v1.8M617.00 503.3v1.8M618.20 500.6v1.8M620.60 498.2v1.8M621.80 496.0v1.8M624.20 494.6v1.8M625.40 494.4v1.8M627.80 494.3v1.8M629.00 494.2v1.8M631.40 494.1v1.8M632.60 493.9v1.8M635.00 493.8v1.8M636.20 493.7v1.8M638.60 493.6v1.8M639.80 493.5v1.8M642.20 493.3v1.8M643.40 493.2v1.8M645.80 493.1v1.8M647.00 493.0v1.8M649.40 492.9v1.8M650.60 492.7v1.8M653.00 492.6v1.8M654.20 492.5v1.8M656.60 492.4v1.8M657.80 492.2v1.8M660.20 492.1v1.8M661.40 492.0v1.8M663.80 491.9v1.8M665.00 491.8v1.8M667.40 491.8v1.8M668.60 491.7v1.8M671.00 491.6v1.8M672.20 491.5v1.8M673.40 491.4v1.8M675.80 491.3v1.8M677.00 491.2v1.8M679.40 491.1v1.8M680.60 491.2v1.8M683.00 491.3v1.8M684.20 491.5v1.8M686.60 491.6v1.8M687.80 491.7v1.8M690.20 491.9v1.8M691.40 492.0v1.8M693.80 492.1v1.8M695.00 492.3v1.8M697.40 492.4v1.8M698.60 492.5v1.8M701.00 493.0v1.8M702.20 493.7v1.8M704.60 494.4v1.8M705.80 494.6v1.8M708.20 494.6v1.8M709.40 494.6v1.8M711.80 494.5v1.8M713.00 494.5v1.8M715.40 494.5v1.8M716.60 494.5v1.8M719.00 494.5v1.8M720.20 494.5v1.8M722.60 494.4v1.8M723.80 494.4v1.8M726.20 494.4v1.8M727.40 494.4v1.8M729.80 494.4v1.8M731.00 494.4v1.8M733.40 494.3v1.8M734.60 494.3v1.8M737.00 494.3v1.8M738.20 494.3v1.8M740.60 494.3v1.8M741.80 494.3v1.8M744.20 494.2v1.8M745.40 494.2v1.8M747.80 494.2v1.8M749.00 494.2v1.8M751.40 494.2v1.8M752.60 494.2v1.8M755.00 494.1v1.8M756.20 494.1v1.8M758.60 494.1v1.8M759.80 494.1v1.8M762.20 494.0v1.8M763.40 493.9v1.8M765.80 493.8v1.8M767.00 493.7v1.8M769.40 493.6v1.8M770.60 493.6v1.8M773.00 493.5v1.8M774.20 493.4v1.8M776.60 493.3v1.8M777.80 493.2v1.8M780.20 493.1v1.8M781.40 493.0v1.8M783.80 492.9v1.8M785.00 492.8v1.8M787.40 492.7v1.8M788.60 492.7v1.8M791.00 492.6v1.8M792.20 492.5v1.8M794.60 492.4v1.8M795.80 492.3v1.8M798.20 492.2v1.8M799.40 492.1v1.8M801.80 492.0v1.8M803.00 492.0v1.8M805.40 491.9v1.8M806.60 491.9v1.8M809.00 491.8v1.8M810.20 491.8v1.8M812.60 491.7v1.8M813.80 491.6v1.8M816.20 491.6v1.8M817.40 491.5v1.8M819.80 491.5v1.8M821.00 491.4v1.8M823.40 491.3v1.8M824.60 491.3v1.8M827.00 491.2v1.8M828.20 491.2v1.8M830.60 491.1v1.8M831.80 491.2v1.8M834.20 491.4v1.8M835.40 491.5v1.8M837.80 491.6v1.8M839.00 491.7v1.8M841.40 491.8v1.8M842.60 492.0v1.8M845.00 492.1v1.8M846.20 492.6v1.8M848.60 493.3v1.8M849.80 494.0v1.8M852.20 494.7v1.8M853.40 495.4v1.8" stroke="#400000" stroke-opacity="0.75" stroke-width="1.2" fill="none"/>
<path d="M9.80 837.6V823.1M11.00 837.6V819.7M13.40 837.6V823.1M14.60 837.6V828.3M17.00 837.6V825.7M18.20 837.6V822.3M20.60 837.6V797.5M21.80 837.6V789.8M24.20 837.6V789.8M25.40 837.6V794.1M27.80 837.6V782.1M29.00 837.6V773.6M31.40 837.6V771.9M32.60 837.6V777.0M35.00 837.6V778.7M36.20 837.6V763.3M38.60 837.6V761.6M39.80 837.6V766.8M42.20 837.6V766.8M43.40 837.6V773.6M45.80 837.6V773.6M47.00 837.6V777.0M49.40 837.6V778.7M50.60 837.6V772.7M53.00 837.6V766.8M54.20 837.6V764.2M56.60 837.6V772.7M57.80 837.6V783.8M60.20 837.6V789.8M61.40 837.6V789.8M63.80 837.6V789.8M65.00 837.6V782.1M67.40 837.6V778.7M68.60 837.6V777.9M71.00 837.6V777.9M72.20 837.6V789.8M74.60 837.6V776.2M75.80 837.6V764.2M78.20 837.6V766.8M79.40 837.6V759.1M81.80 837.6V754.8M83.00 837.6V742.0M85.40 837.6V743.7M86.60 837.6V737.7M89.00 837.6V753.9M90.20 837.6V748.8M92.60 837.6V748.0M93.80 837.6V733.4M96.20 837.6V734.3M97.40 837.6V744.5M99.80 837.6V748.0M101.00 837.6V751.4M103.40 837.6V751.4M104.60 837.6V768.5M107.00 837.6V766.8M108.20 837.6V758.2M110.60 837.6V752.2M111.80 837.6V744.5M114.20 837.6V740.3M115.40 837.6V736.9M117.80 837.6V735.1M119.00 837.6V727.5M121.40 837.6V727.5M122.60 837.6V729.2M125.00 837.6V722.3M126.20 837.6V731.7M128.60 837.6V727.5M129.80 837.6V713.8M132.20 837.6V719.8M133.40 837.6V724.9M134.60 837.6V734.3M137.00 837.6V733.4M138.20 837.6V736.9M140.60 837.6V742.0M141.80 837.6V736.9M144.20 837.6V738.6M145.40 837.6V739.4M147.80 837.6V739.4M149.00 837.6V772.7M151.40 837.6V790.7M152.60 837.6V788.6M155.00 837.6V787.3M156.20 837.6V775.3M158.60 837.6V769.3M159.80 837.6V769.3M162.20 837.6V773.6M163.40 837.6V771.9M165.80 837.6V778.7M167.00 837.6V772.7M169.40 837.6V769.3M170.60 837.6V760.8M173.00 837.6V763.3M174.20 837.6V766.8M176.60 837.6V771.9M177.80 837.6V771.9M180.20 837.6V763.3M181.40 837.6V775.3M183.80 837.6V775.3M185.00 837.6V776.2M187.40 837.6V769.3M188.60 837.6V777.9M191.00 837.6V779.6M192.20 837.6V768.5M194.60 837.6V758.6M195.80 837.6V761.6M198.20 837.6V763.3M199.40 837.6V771.9M201.80 837.6V770.2M203.00 837.6V764.2M205.40 837.6V771.9M206.60 837.6V766.8M209.00 837.6V770.2M210.20 837.6V777.0M212.60 837.6V789.8M213.80 837.6V800.9M216.20 837.6V801.8M217.40 837.6V800.9M219.80 837.6V799.2M221.00 837.6V798.9M223.40 837.6V791.5M224.60 837.6V788.6M227.00 837.6V793.2M228.20 837.6V806.9M230.60 837.6V807.8M231.80 837.6V805.2M234.20 837.6V807.4M235.40 837.6V807.8M237.80 837.6V807.8M239.00 837.6V810.3M241.40 837.6V803.5M242.60 837.6V806.0M245.00 837.6V806.0M246.20 837.6V801.8M248.60 837.6V804.3M249.80 837.6V793.2M252.20 837.6V784.7M253.40 837.6V798.4M255.80 837.6V799.2M257.00 837.6V804.3M259.40 837.6V810.3M260.60 837.6V813.7M263.00 837.6V815.4M264.20 837.6V817.7M266.60 837.6V815.0M267.80 837.6V812.5M270.20 837.6V807.8M271.40 837.6V807.8M273.80 837.6V802.6M275.00 837.6V808.6M277.40 837.6V807.8M278.60 837.6V812.9M281.00 837.6V810.3M282.20 837.6V811.2M284.60 837.6V806.0M285.80 837.6V805.2M288.20 837.6V803.5M289.40 837.6V808.6M291.80 837.6V816.3M293.00 837.6V821.4M295.40 837.6V822.3M296.60 837.6V817.2M299.00 837.6V806.0M300.20 837.6V799.2M302.60 837.6V792.4M303.80 837.6V784.7M306.20 837.6V779.6M307.40 837.6V783.0M309.80 837.6V782.1M311.00 837.6V791.5M313.40 837.6V794.1M314.60 837.6V794.1M317.00 837.6V797.5M318.20 837.6V791.5M320.60 837.6V786.4M321.80 837.6V784.7M324.20 837.6V802.6M325.40 837.6V802.6M327.80 837.6V802.6M329.00 837.6V806.0M331.40 837.6V805.2M332.60 837.6V800.1M335.00 837.6V797.5M336.20 837.6V791.9M338.60 837.6V804.3M339.80 837.6V807.8M342.20 837.6V802.6M343.40 837.6V797.5M345.80 837.6V802.6M347.00 837.6V802.6M349.40 837.6V797.5M350.60 837.6V800.9M353.00 837.6V808.6M354.20 837.6V810.3M356.60 837.6V810.3M357.80 837.6V811.2M360.20 837.6V811.2M361.40 837.6V808.6M363.80 837.6V800.9M365.00 837.6V798.4M367.40 837.6V797.5M368.60 837.6V812.0M371.00 837.6V828.3M372.20 837.6V828.3M374.60 837.6V826.5M375.80 837.6V820.6M378.20 837.6V812.0M379.40 837.6V803.5M381.80 837.6V800.1M383.00 837.6V802.6M385.40 837.6V818.0M386.60 837.6V824.8M389.00 837.6V820.6M390.20 837.6V823.1M392.60 837.6V822.3M393.80 837.6V825.7M396.20 837.6V823.1M397.40 837.6V823.1M399.80 837.6V825.7M401.00 837.6V828.3M403.40 837.6V830.0M404.60 837.6V824.8M405.80 837.6V820.6M408.20 837.6V822.3M409.40 837.6V822.3M411.80 837.6V816.0M413.00 837.6V818.0M415.40 837.6V819.7M416.60 837.6V823.1M419.00 837.6V826.5M420.20 837.6V823.1M422.60 837.6V823.1M423.80 837.6V825.7M426.20 837.6V824.8M427.40 837.6V811.2M429.80 837.6V811.2M431.00 837.6V824.8M433.40 837.6V830.0M434.60 837.6V826.5M437.00 837.6V820.6M438.20 837.6V821.4M440.60 837.6V819.7M441.80 837.6V811.2M444.20 837.6V808.6M445.40 837.6V817.2M447.80 837.6V830.8M449.00 837.6V831.7M451.40 837.6V829.1M452.60 837.6V827.4M455.00 837.6V825.7M456.20 837.6V814.6M458.60 837.6V818.0M459.80 837.6V817.2M462.20 837.6V818.0M463.40 837.6V824.0M465.80 837.6V825.7M467.00 837.6V824.8M469.40 837.6V819.7M470.60 837.6V815.4M473.00 837.6V812.5M474.20 837.6V813.7M476.60 837.6V814.6M477.80 837.6V828.3M480.20 837.6V832.5M481.40 837.6V830.0M483.80 837.6V830.0M485.00 837.6V830.8M487.40 837.6V829.1M488.60 837.6V822.3M491.00 837.6V823.1M492.20 837.6V822.3M494.60 837.6V825.7M495.80 837.6V824.8M498.20 837.6V818.0M499.40 837.6V812.0M501.80 837.6V811.2M503.00 837.6V810.3M505.40 837.6V798.9M506.60 837.6V792.0M509.00 837.6V821.4M510.20 837.6V830.0M512.60 837.6V826.5M513.80 837.6V830.0M516.20 837.6V826.5M517.40 837.6V827.4M519.80 837.6V819.7M521.00 837.6V815.4M523.40 837.6V805.2M524.60 837.6V801.8M527.00 837.6V808.6M528.20 837.6V819.7M530.60 837.6V820.6M531.80 837.6V817.2M534.20 837.6V814.6M535.40 837.6V812.0M537.80 837.6V805.2M539.00 837.6V802.6M541.40 837.6V821.4M542.60 837.6V820.6M545.00 837.6V819.7M546.20 837.6V817.2M548.60 837.6V816.0M549.80 837.6V817.2M552.20 837.6V814.6M553.40 837.6V805.2M555.80 837.6V812.0M557.00 837.6V816.3M559.40 837.6V814.6M560.60 837.6V810.3M563.00 837.6V803.5M564.20 837.6V797.5M566.60 837.6V795.8M567.80 837.6V790.7M570.20 837.6V791.5M571.40 837.6V800.9M573.80 837.6V802.6M575.00 837.6V802.3M577.40 837.6V803.5M578.60 837.6V804.3M581.00 837.6V812.0M582.20 837.6V807.8M584.60 837.6V811.2M585.80 837.6V808.6M588.20 837.6V809.5M589.40 837.6V804.3M591.80 837.6V802.6M593.00 837.6V789.0M595.40 837.6V789.8M596.60 837.6V799.2M599.00 837.6V801.8M600.20 837.6V802.6M602.60 837.6V818.0M603.80 837.6V820.6M606.20 837.6V819.7M607.40 837.6V820.6M609.80 837.6V814.6M611.00 837.6V816.3M613.40 837.6V811.2M614.60 837.6V817.2M617.00 837.6V821.4M618.20 837.6V823.1M620.60 837.6V825.7M621.80 837.6V812.0M624.20 837.6V805.2M625.40 837.6V798.4M627.80 837.6V797.5M629.00 837.6V776.2M631.40 837.6V778.7M632.60 837.6V771.9M635.00 837.6V783.8M636.20 837.6V786.4M638.60 837.6V773.6M639.80 837.6V773.6M642.20 837.6V776.2M643.40 837.6V748.8M645.80 837.6V742.8M647.00 837.6V736.9M649.40 837.6V758.2M650.60 837.6V778.7M653.00 837.6V777.9M654.20 837.6V757.4M656.60 837.6V746.3M657.80 837.6V730.0M660.20 837.6V712.9M661.40 837.6V721.5M663.80 837.6V727.5M665.00 837.6V744.5M667.40 837.6V742.0M668.60 837.6V744.5M671.00 837.6V746.3M672.20 837.6V746.3M673.40 837.6V752.2M675.80 837.6V737.7M677.00 837.6V745.4M679.40 837.6V751.4M680.60 837.6V742.0M683.00 837.6V757.4M684.20 837.6V772.7M686.60 837.6V777.9M687.80 837.6V772.7M690.20 837.6V766.8M691.40 837.6V764.2M693.80 837.6V784.7M695.00 837.6V792.4M697.40 837.6V814.6M698.60 837.6V819.7M701.00 837.6V818.0M702.20 837.6V818.0M704.60 837.6V816.2M705.80 837.6V806.2M708.20 837.6V798.9M709.40 837.6V789.8M711.80 837.6V783.4M713.00 837.6V817.1M715.40 837.6V811.6M716.60 837.6V810.7M719.00 837.6V806.2M720.20 837.6V798.0M722.60 837.6V802.5M723.80 837.6V806.2M726.20 837.6V798.0M727.40 837.6V797.1M729.80 837.6V805.3M731.00 837.6V794.3M733.40 837.6V787.0M734.60 837.6V786.1M737.00 837.6V791.6M738.20 837.6V804.3M740.60 837.6V802.5M741.80 837.6V790.7M744.20 837.6V802.5M745.40 837.6V778.8M747.80 837.6V787.0M749.00 837.6V797.1M751.40 837.6V795.2M752.60 837.6V793.4M755.00 837.6V786.1M756.20 837.6V782.5M758.60 837.6V790.7M759.80 837.6V795.2M762.20 837.6V795.2M763.40 837.6V784.3M765.80 837.6V775.2M767.00 837.6V759.7M769.40 837.6V748.8M770.60 837.6V742.7M773.00 837.6V747.8M774.20 837.6V756.0M776.60 837.6V765.2M777.80 837.6V767.9M780.20 837.6V764.2M781.40 837.6V764.2M783.80 837.6V762.4M785.00 837.6V760.6M787.40 837.6V762.4M788.60 837.6V763.3M791.00 837.6V773.4M792.20 837.6V787.9M794.60 837.6V794.3M795.80 837.6V794.3M798.20 837.6V793.4M799.40 837.6V775.2M801.80 837.6V753.3M803.00 837.6V741.5M805.40 837.6V741.5M806.60 837.6V751.5M809.00 837.6V760.6M810.20 837.6V771.5M812.60 837.6V764.2M813.80 837.6V762.4M816.20 837.6V772.4M817.40 837.6V764.2M819.80 837.6V757.0M821.00 837.6V763.3M823.40 837.6V778.8M824.60 837.6V776.1M827.00 837.6V771.5M828.20 837.6V772.4M830.60 837.6V773.4M831.80 837.6V779.7M834.20 837.6V767.9M835.40 837.6V775.2M837.80 837.6V787.9M839.00 837.6V794.3M841.40 837.6V795.2M842.60 837.6V787.9M845.00 837.6V787.9M846.20 837.6V778.5M848.60 837.6V773.4M849.80 837.6V764.2M852.20 837.6V777.0M853.40 837.6V794.9" stroke="#009a00" stroke-width="1.2" fill="none"/>
<path d="M7.9 501.7H863.5" stroke="#cfcfcf" stroke-width="1.1" fill="none"/>
<path d="M8.2 283.5 L8.9 276.7 L10.6 273.3 L12.3 278.4 L14.5 280.9 L17.1 276.7 L18.8 266.4 L21.4 262.2 L23.1 263.9 L24.8 267.3 L27.3 252.8 L29.4 250.2 L31.3 252.8 L32.5 257.0 L35.0 242.5 L38.4 227.1 L40.5 219.4 L41.9 212.6 L42.7 223.7 L44.1 234.0 L45.3 235.7 L47.0 243.4 L49.2 240.8 L50.9 230.5 L52.1 228.0 L53.8 233.1 L55.0 242.5 L56.4 239.1 L58.1 251.9 L59.8 238.2 L61.2 234.8 L62.9 240.8 L64.6 230.5 L66.3 237.4 L67.8 234.8 L70.0 242.5 L72.6 233.1 L74.8 225.4 L76.9 231.4 L79.4 222.9 L81.2 220.3 L82.9 205.8 L84.9 220.3 L87.1 211.8 L88.8 207.5 L90.0 210.0 L91.7 204.1 L93.6 203.2 L95.3 206.6 L96.9 215.2 L98.7 214.3 L100.8 219.4 L102.5 225.4 L104.2 217.7 L106.8 211.8 L108.5 208.3 L111.0 205.8 L112.8 203.2 L114.1 204.1 L116.2 198.1 L118.7 189.5 L121.0 180.1 L122.7 173.3 L124.4 181.9 L126.1 184.4 L127.8 173.3 L129.3 165.3 L131.2 181.0 L132.9 174.2 L135.0 170.8 L136.3 163.9 L138.0 168.2 L139.7 171.6 L141.5 167.3 L143.2 161.4 L144.4 171.6 L146.1 170.8 L147.8 176.7 L149.5 184.4 L150.6 183.8 L152.8 176.9 L155.4 166.7 L157.9 157.3 L160.2 160.7 L161.9 166.7 L163.6 159.0 L165.6 160.7 L168.2 149.6 L170.8 141.9 L172.5 139.3 L173.7 128.2 L175.0 144.5 L176.2 139.3 L177.6 145.3 L180.1 134.2 L182.7 130.8 L184.8 135.9 L187.0 129.1 L188.2 141.0 L189.5 145.3 L191.3 130.8 L193.0 118.8 L194.7 117.1 L196.4 112.9 L197.7 110.3 L198.9 98.3 L199.8 72.7 L200.6 81.3 L201.8 60.8 L202.9 46.2 L203.6 77.8 L204.6 69.3 L205.4 48.8 L207.0 52.2 L208.0 60.8 L209.2 72.7 L210.4 66.7 L211.4 98.3 L212.1 117.1 L213.1 105.2 L214.3 110.3 L215.5 100.0 L216.9 98.3 L218.1 112.9 L219.4 88.1 L220.3 81.3 L221.3 88.1 L222.9 68.4 L224.1 77.0 L225.1 72.7 L226.3 95.8 L227.6 93.2 L228.8 81.3 L230.0 83.8 L231.4 101.8 L232.6 122.3 L234.0 113.7 L236.0 130.8 L237.0 117.1 L238.2 113.7 L239.9 106.9 L242.5 98.3 L243.4 86.4 L245.1 79.5 L246.8 84.7 L248.5 85.5 L250.2 71.9 L251.6 71.9 L252.4 88.9 L253.6 98.3 L254.8 91.5 L256.2 105.2 L257.9 104.3 L259.1 96.6 L261.0 112.0 L262.7 97.5 L263.9 105.2 L265.6 107.7 L267.3 101.8 L269.0 105.2 L270.7 120.5 L271.9 131.7 L273.3 119.7 L275.0 128.2 L276.7 110.3 L278.4 117.1 L279.7 110.3 L281.5 125.7 L282.7 128.2 L283.8 112.9 L285.2 124.0 L286.6 120.5 L288.3 123.1 L288.5 122.2 L290.3 113.7 L292.0 117.1 L293.7 114.5 L295.4 115.4 L297.1 100.9 L298.8 101.7 L300.5 93.2 L301.9 82.1 L303.1 75.3 L304.3 78.7 L305.6 72.7 L307.0 73.5 L308.2 70.1 L309.4 74.4 L310.8 80.4 L312.5 87.2 L313.8 90.6 L315.4 96.6 L316.7 85.5 L318.4 87.2 L319.6 83.8 L320.7 79.5 L321.9 87.2 L323.6 86.4 L324.8 93.2 L326.1 88.9 L327.8 98.3 L329.2 104.3 L330.9 96.6 L332.1 103.4 L333.8 98.3 L335.5 94.0 L336.7 101.7 L338.1 97.5 L339.8 98.3 L341.5 106.0 L343.2 116.3 L344.6 122.2 L345.8 114.5 L347.1 123.1 L349.2 119.7 L350.9 114.5 L352.6 115.4 L354.3 119.7 L355.2 129.1 L356.0 119.7 L356.9 138.5 L357.7 159.0 L357.7 175.2 L358.9 164.1 L360.3 150.4 L361.7 153.8 L362.9 148.7 L364.1 160.7 L365.4 165.8 L366.6 174.3 L368.0 168.4 L369.2 170.9 L370.5 163.2 L371.9 170.9 L373.5 171.8 L374.3 184.6 L375.3 196.5 L376.5 203.4 L377.4 211.9 L378.7 200.0 L380.8 196.5 L382.0 188.0 L383.4 182.9 L384.6 186.3 L385.9 188.0 L386.8 194.0 L388.0 184.6 L389.3 174.3 L391.0 168.4 L392.4 162.4 L393.6 167.5 L394.8 172.6 L396.2 188.0 L397.5 174.3 L398.7 184.6 L400.4 182.9 L401.6 194.8 L402.7 184.6 L403.9 198.3 L405.6 184.6 L407.3 178.6 L408.5 184.6 L409.8 188.0 L411.2 194.8 L412.9 199.1 L415.0 205.1 L416.7 206.8 L418.0 210.2 L419.2 201.7 L420.4 206.8 L421.8 213.6 L423.5 217.1 L425.2 206.8 L426.9 204.2 L428.6 205.1 L429.9 201.2 L431.1 200.3 L432.8 204.6 L434.5 195.2 L436.2 186.6 L437.9 184.9 L439.6 179.8 L441.4 180.6 L443.1 172.1 L444.3 179.8 L445.6 187.5 L447.3 195.2 L449.0 190.9 L450.4 185.8 L452.5 195.2 L454.2 191.8 L455.9 193.5 L457.6 189.2 L460.1 192.6 L461.9 200.3 L463.6 204.6 L465.3 200.3 L467.0 196.9 L468.7 187.5 L470.4 184.9 L472.1 185.8 L473.3 182.4 L474.7 188.3 L476.4 190.0 L478.9 195.2 L480.6 189.2 L482.4 189.2 L484.1 196.0 L485.8 194.3 L487.5 198.6 L489.2 203.7 L490.9 208.8 L492.6 212.3 L494.3 211.4 L495.5 217.4 L496.9 208.8 L498.2 205.4 L499.4 204.6 L501.2 210.5 L502.3 220.8 L503.7 229.3 L505.4 222.5 L507.1 218.2 L508.8 216.5 L510.2 220.8 L511.4 213.1 L512.6 209.7 L514.0 217.4 L515.3 215.7 L516.5 221.7 L518.2 218.2 L519.9 213.1 L521.1 211.4 L522.2 200.3 L523.4 193.5 L524.6 192.6 L525.9 197.7 L527.3 201.2 L528.5 208.0 L530.2 213.1 L531.9 215.7 L533.1 214.0 L534.5 221.7 L535.8 227.6 L537.5 227.6 L538.7 220.8 L540.4 215.7 L542.2 212.3 L543.3 218.2 L544.7 215.7 L546.4 216.5 L547.8 222.5 L549.0 213.1 L550.2 219.1 L551.9 214.0 L553.3 209.7 L555.0 217.4 L556.7 219.1 L558.0 222.5 L559.7 219.9 L560.0 220.8 L561.7 215.7 L563.1 221.7 L564.8 222.5 L566.5 226.8 L568.2 231.0 L569.4 239.6 L570.6 243.0 L572.3 243.0 L574.0 242.2 L575.4 236.2 L576.7 236.2 L577.9 226.8 L579.1 231.0 L580.5 232.8 L582.2 239.6 L583.9 232.8 L585.6 233.6 L587.0 228.5 L588.2 236.2 L589.9 227.6 L591.6 219.9 L593.3 223.4 L595.0 222.5 L596.2 232.8 L597.6 243.0 L599.3 244.7 L601.0 249.0 L602.7 246.4 L604.1 251.5 L605.3 246.4 L606.5 248.1 L607.8 252.4 L609.5 247.3 L611.3 249.0 L613.0 245.6 L614.3 239.6 L615.5 246.4 L617.2 241.3 L618.9 236.2 L620.6 231.0 L621.8 215.7 L622.7 204.6 L623.6 213.1 L624.9 208.8 L626.6 207.1 L628.0 200.3 L629.2 198.6 L630.9 203.7 L632.6 208.8 L634.3 208.0 L636.0 211.4 L637.7 202.0 L638.9 208.0 L640.6 206.3 L642.0 199.4 L643.7 193.5 L645.1 198.6 L646.8 196.0 L648.5 203.7 L650.2 212.3 L651.4 213.1 L653.1 202.0 L654.8 192.6 L656.5 200.3 L657.4 188.3 L658.7 182.4 L659.9 175.5 L661.1 178.1 L662.5 185.8 L664.2 184.9 L665.6 186.6 L666.8 175.5 L668.0 181.5 L669.3 178.9 L671.0 179.8 L672.8 183.2 L674.1 188.3 L675.8 178.9 L677.5 188.3 L679.2 184.9 L680.6 180.6 L682.2 188.3 L683.3 202.0 L685.1 202.9 L687.3 200.3 L689.5 196.9 L690.7 190.0 L691.9 197.7 L693.3 208.8 L695.0 214.0 L696.7 220.8 L698.4 222.5 L700.0 223.9 L701.5 233.0 L703.6 233.0 L705.5 225.7 L707.3 219.3 L709.1 214.8 L710.9 212.9 L712.4 218.4 L713.7 212.9 L715.5 207.5 L717.3 207.5 L719.1 202.0 L720.4 202.0 L721.9 209.3 L723.3 214.8 L724.6 215.7 L725.9 207.5 L727.3 203.8 L729.2 203.8 L731.0 201.1 L732.4 194.7 L733.7 192.9 L735.5 200.2 L737.4 207.5 L738.6 211.1 L740.1 207.5 L741.9 201.1 L743.7 199.3 L745.6 193.8 L747.0 198.4 L748.8 203.8 L750.1 202.9 L751.9 207.5 L753.8 212.9 L755.0 212.0 L756.9 205.6 L758.7 200.2 L760.1 198.4 L762.0 201.1 L763.4 194.7 L765.2 194.7 L767.1 191.1 L768.3 183.8 L769.8 180.1 L771.4 184.7 L772.9 191.1 L774.7 193.8 L776.5 197.4 L778.4 192.9 L779.6 191.1 L781.1 196.5 L782.9 198.4 L784.7 196.5 L786.6 195.6 L788.4 192.9 L790.2 193.8 L792.0 200.2 L793.8 205.6 L795.1 204.7 L796.9 196.5 L798.8 189.2 L800.6 185.6 L802.4 182.9 L804.2 182.0 L805.7 176.5 L807.5 182.0 L809.3 186.5 L810.8 178.3 L812.6 183.8 L814.4 189.2 L815.7 183.8 L817.5 185.6 L819.4 187.4 L820.6 178.3 L822.5 183.8 L823.9 179.2 L825.4 176.5 L827.2 180.1 L829.0 185.6 L830.8 189.2 L832.7 186.5 L834.5 193.8 L836.3 192.9 L838.1 192.0 L840.0 192.0 L841.8 191.1 L843.1 198.4 L844.9 200.2 L846.2 205.6 L847.6 202.0 L849.4 207.5 L851.3 209.3 L853.1 210.2 L854.9 212.9" stroke="#0000ff" stroke-width="1.55" fill="none" stroke-linejoin="round"/>
<path d="M7.9 18.0H863.5 M7.9 18.0V837.6 M858.5 18.0V837.6 M7.9 322.0H858.5 M7.9 682.0H858.5 M7.9 837.6H863.5 M858.5 314.7h5 M858.5 290.0h5 M858.5 265.3h5 M858.5 240.6h5 M858.5 215.9h5 M858.5 191.2h5 M858.5 166.5h5 M858.5 141.8h5 M858.5 117.0h5 M858.5 92.3h5 M858.5 67.6h5 M858.5 42.9h5 M858.5 669.6h5 M858.5 627.8h5 M858.5 586.0h5 M858.5 544.2h5 M858.5 460.6h5 M858.5 418.8h5 M858.5 377.0h5 M858.5 335.2h5 M858.5 817.0h5 M858.5 796.5h5 M858.5 775.9h5 M858.5 755.3h5 M858.5 734.7h5 M858.5 714.2h5 M858.5 693.6h5 M49.7 837.6v4.5 M143.4 837.6v4.5 M237.1 837.6v4.5 M330.8 837.6v4.5 M424.5 837.6v4.5 M518.2 837.6v4.5 M611.9 837.6v4.5 M705.6 837.6v4.5 M799.3 837.6v4.5" stroke="#303030" stroke-width="1.55" fill="none"/>
<text x="867.3" y="319.3">800</text>
<text x="867.3" y="294.6">900</text>
<text x="867.3" y="269.9">1000</text>
<text x="867.3" y="245.2">1100</text>
<text x="867.3" y="220.5">1200</text>
<text x="867.3" y="195.8">1300</text>
<text x="867.3" y="171.1">1400</text>
<text x="867.3" y="146.3">1500</text>
<text x="867.3" y="121.6">1600</text>
<text x="867.3" y="96.9">1700</text>
<text x="867.3" y="72.2">1800</text>
<text x="867.3" y="47.5">1900</text>
<text x="867.3" y="22.8">2000</text>
<text x="867.3" y="674.2">-400</text>
<text x="867.3" y="632.4">-300</text>
<text x="867.3" y="590.6">-200</text>
<text x="867.3" y="548.8">-100</text>
<text x="867.3" y="506.3">0</text>
<text x="867.3" y="465.2">100</text>
<text x="867.3" y="423.4">200</text>
<text x="867.3" y="381.6">300</text>
<text x="867.3" y="339.8">400</text>
<text x="867.3" y="842.2">350</text>
<text x="867.3" y="821.6">400</text>
<text x="867.3" y="801.1">450</text>
<text x="867.3" y="780.5">500</text>
<text x="867.3" y="759.9">550</text>
<text x="867.3" y="739.3">600</text>
<text x="867.3" y="718.8">650</text>
<text x="867.3" y="698.2">700</text>
<text x="49.7" y="856.4" text-anchor="middle">2010</text>
<text x="143.4" y="856.4" text-anchor="middle">2011</text>
<text x="237.1" y="856.4" text-anchor="middle">2012</text>
<text x="330.8" y="856.4" text-anchor="middle">2013</text>
<text x="424.5" y="856.4" text-anchor="middle">2014</text>
<text x="518.2" y="856.4" text-anchor="middle">2015</text>
<text x="611.9" y="856.4" text-anchor="middle">2016</text>
<text x="705.6" y="856.4" text-anchor="middle">2017</text>
<text x="799.3" y="856.4" text-anchor="middle">2018</text>
<text x="450.5" y="15.6" text-anchor="middle" font-size="23.2" font-weight="bold" font-style="italic" fill="#0000ff" class="ti">Gold - Futures COTs</text>
<text x="370.7" y="30.3" xml:space="preserve" textLength="172">Aug-03  2018   Close= 1214.2</text>
<text x="11" y="335" xml:space="preserve" textLength="70.4">Jul-31  2018</text>
<text x="222.3" y="335">Commercials Net = -48</text>
<text x="387.7" y="335">NonCommercials Net = 35</text>
<text x="567.3" y="335">NonReportable Net = 13</text>
<rect x="14.2" y="670.3" width="7.6" height="7.4" fill="#0000ff" stroke="#1a1a1a" stroke-width="1.1"/>
<text x="25.5" y="678.3">Commercials</text>
<rect x="126.4" y="670.3" width="7.6" height="7.4" fill="#ff0000" stroke="#1a1a1a" stroke-width="1.1"/>
<text x="138" y="678.3">NonCommercials</text>
<rect x="261.8" y="670.3" width="7.6" height="7.4" fill="#000" stroke="#1a1a1a" stroke-width="1.1"/>
<text x="273.7" y="678.3">NonReportables</text>
<rect x="14.2" y="688.1" width="7.6" height="7.4" fill="#009a00" stroke="#1a1a1a" stroke-width="1.1"/>
<text x="25.5" y="696.6">Open Interest</text>
<text x="856.8" y="680.4" text-anchor="end" font-size="11.4">volumes in 1000's</text>
<text x="839.5" y="693.6" text-anchor="end" font-size="11.2">last = 453</text>
<text x="356.6" y="871.4" font-size="13" textLength="265.6">world gold charts © www.goldchartsrus.com</text>
<rect x="0" y="876.4" width="901" height="1.6" fill="#c6c6c6"/>
<rect x="369.4" y="91.6" width="17.1" height="762.4" fill="none" stroke="#FFC000" stroke-width="1.1"/>
<rect x="412.4" y="95.7" width="17.1" height="762.3" fill="none" stroke="#FFC000" stroke-width="1.1"/>
<rect x="562.5" y="96.4" width="17.2" height="762.3" fill="none" stroke="#FFC000" stroke-width="1.1"/>
<rect x="599.4" y="94.4" width="17.1" height="761.9" fill="none" stroke="#FFC000" stroke-width="1.1"/>
<rect x="844.4" y="94.5" width="12.1" height="762.8" fill="none" stroke="#FFC000" stroke-width="1.1"/>
<rect x="0" y="487.9" width="886" height="2.0" fill="#FFC000"/>
<rect x="0" y="520.0" width="886" height="2.0" fill="#FFC000"/>
<rect x="0" y="795.1" width="887" height="2.0" fill="#FFC000"/>
<text x="377.3" y="82.2" text-anchor="middle" font-size="25.4" fill="#FFC000" class="og">1</text>
<text x="420.4" y="82.2" text-anchor="middle" font-size="25.4" fill="#FFC000" class="og">2</text>
<text x="570.8" y="82" text-anchor="middle" font-size="25.4" fill="#FFC000" class="og">3</text>
<text x="608.2" y="82.2" text-anchor="middle" font-size="25.4" fill="#FFC000" class="og">4</text>
<text x="847.7" y="81.5" text-anchor="middle" font-size="25.4" fill="#FFC000" class="og">5</text>
<text x="377.6" y="241" text-anchor="middle" font-size="25.4" fill="#FFC000" class="og">1</text>
<text x="420.9" y="240.2" text-anchor="middle" font-size="25.4" fill="#FFC000" class="og">2</text>
<text x="571" y="267.6" text-anchor="middle" font-size="25.4" fill="#FFC000" class="og">3</text>
<text x="607.8" y="276.9" text-anchor="middle" font-size="25.4" fill="#FFC000" class="og">4</text>
<text x="850.2" y="235.3" text-anchor="middle" font-size="25.4" fill="#FFC000" class="og">5</text>
</svg>
</body></html>
